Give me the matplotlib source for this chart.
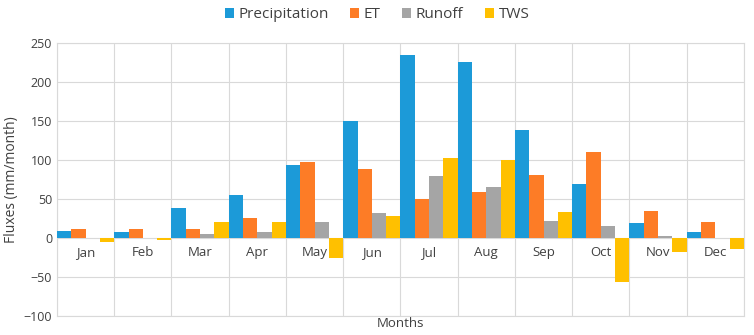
import matplotlib.pyplot as plt
import numpy as np

months = ["Jan", "Feb", "Mar", "Apr", "May", "Jun", "Jul", "Aug", "Sep", "Oct", "Nov", "Dec"]
precipitation = [9, 8, 38, 55, 94, 150, 234, 225, 138, 69, 19, 8]
et = [12, 11, 12, 25, 98, 89, 50, 59, 81, 110, 34, 21]
runoff = [0, 0, 5, 8, 21, 32, 80, 66, 22, 16, 2, 0]
tws = [-5, -3, 20, 20, -26, 28, 103, 100, 33, -57, -18, -14]

series = [("Precipitation", precipitation, "#1C9AD8"),
          ("ET", et, "#FD7C26"),
          ("Runoff", runoff, "#A5A5A5"),
          ("TWS", tws, "#FFC000")]

plt.rcParams['font.family'] = ['Open Sans', 'DejaVu Sans']

fig = plt.figure(figsize=(7.54, 3.35), dpi=100)
ax = fig.add_axes([0.0756, 0.0567, 0.911, 0.815])

x = np.arange(len(months))
w = 0.25
for i, (name, vals, col) in enumerate(series):
    ax.bar(x - 0.375 + i * w, vals, width=w, color=col, label=name, zorder=3)

ax.set_xlim(-0.5, len(months) - 0.5)
ax.set_ylim(-100, 250)
ax.set_yticks(range(-100, 251, 50))
ax.set_xticks(np.arange(-0.5, len(months), 1.0))
ax.set_xticklabels([])
ax.tick_params(axis='both', length=0, labelsize=9, colors="#404040")
ax.grid(True, color="#D9D9D9", linewidth=0.8, zorder=0)
for s in ax.spines.values():
    s.set_color("#D9D9D9")
    s.set_linewidth(0.8)

for i, m in enumerate(months):
    ax.annotate(m, xy=(i, 0), xytext=(0, -6), textcoords="offset points",
                ha="center", va="top", fontsize=9.5, color="#404040")

ax.set_ylabel("Fluxes (mm/month)", fontsize=10, color="#404040", labelpad=3)
ax.set_xlabel("Months", fontsize=9.5, color="#404040")
ax.xaxis.set_label_coords(0.5, -0.005)

fig.legend(loc="upper center", bbox_to_anchor=(0.5, 1.02), ncol=4, frameon=False,
           fontsize=11, handlelength=0.6, handleheight=0.6, handletextpad=0.3,
           columnspacing=1.4, labelcolor="#404040")

fig.savefig("out.png", dpi=100)
